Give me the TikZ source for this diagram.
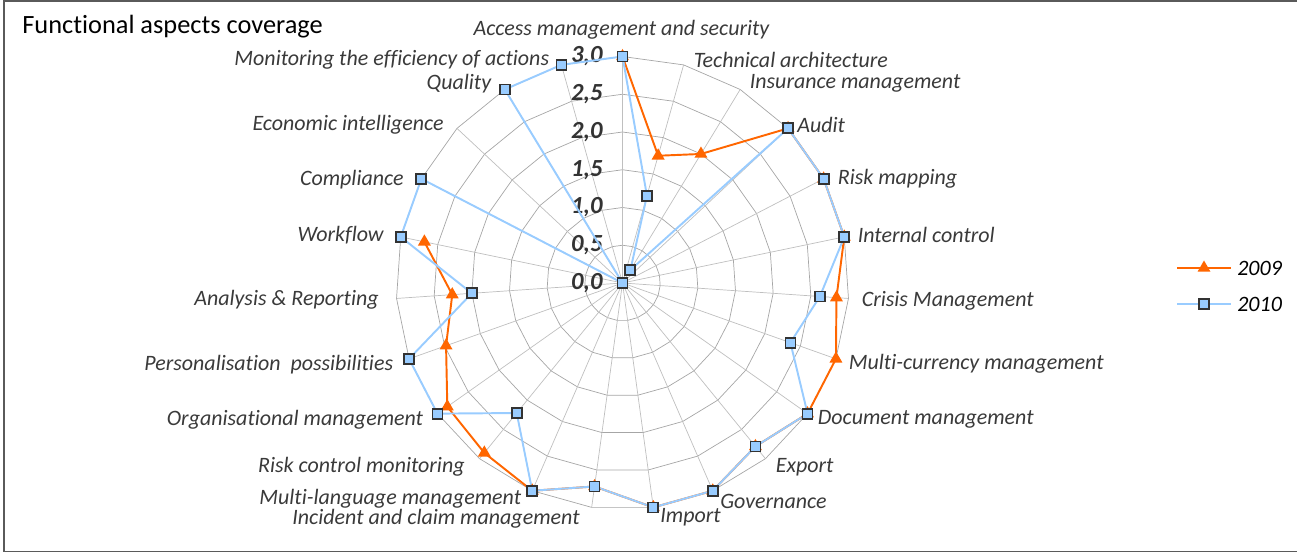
\documentclass[tikz,border=0pt]{standalone}
\usepackage{fontspec}
\setmainfont{Carlito}[Ligatures=NoCommon]
\usetikzlibrary{shapes.geometric}

\definecolor{orangeline}{RGB}{255,102,0}
\definecolor{blueline}{RGB}{153,204,255}
\definecolor{labeltext}{RGB}{58,58,58}
\definecolor{markeredge}{RGB}{51,51,51}
\definecolor{framegray}{RGB}{90,90,90}

\tikzset{
  ring/.style={draw=gray!70, line width=0.4pt},
  spoke/.style={draw=gray!50, line width=0.4pt},
  line09/.style={draw=orangeline, line width=1.1pt},
  line10/.style={draw=blueline, line width=1.1pt},
  tri09/.style={regular polygon, regular polygon sides=3, fill=orangeline, inner sep=0pt, minimum size=0.3cm},
  sq10/.style={rectangle, fill=blueline, draw=markeredge, line width=1pt, inner sep=0pt, minimum size=0.2cm},
  catlabel/.style={font=\fontsize{12.5}{15}\selectfont\itshape, text=labeltext, inner sep=0pt},
  ticklabel/.style={font=\fontsize{14}{16}\selectfont\bfseries\itshape, text=markeredge, inner sep=0pt, anchor=east},
  legtext/.style={font=\fontsize{12.5}{15}\selectfont\itshape, text=black, inner sep=0pt, anchor=west}
}

\begin{document}
\begin{tikzpicture}
  \useasboundingbox (0,0) rectangle (25.94,11.06);
  \draw[framegray, line width=0.9pt] (26.5,11.04) -- (0.08,11.04) -- (0.08,0.03) -- (26.5,0.03);
  \node[anchor=west, inner sep=0pt, font=\fontsize{15}{18}\selectfont] (title) at (0.44,10.52) {Functional aspects coverage};

  \begin{scope}[xshift=12.45cm, yshift=5.40cm, scale=1.51]
    % grid
    \foreach \r in {0.5,1,...,3}
      \draw[ring] (90:\r) \foreach \i in {1,...,22}{ -- (90-\i*360/23:\r)} -- cycle;
    \foreach \i in {0,...,22}
      \draw[spoke] (0,0) -- (90-\i*360/23:3);
    \foreach \v/\a/\b in {0/0/0, 0.5/0/5, 1/1/0, 1.5/1/5, 2/2/0, 2.5/2/5, 3/3/0}
      \node[ticklabel] (tick\a\b) at (-0.26,\v) {\a,\b};

    % data points
    \foreach \v [count=\i from 0] in {3,1.75,2,3,3,3,2.84,3,3,2.79,3,3,2.72,3,2.9,2.84,2.48,2.26,2.68}
      \coordinate (p\i) at (90-\i*360/23:\v);
    \foreach \v [count=\i from 0] in {3,1.2,0.2,3,3,3,2.62,2.36,3,2.79,3,3,2.72,3,2.22,3,3,2,3,3,0,3,3}
      \coordinate (q\i) at (90-\i*360/23:\v);

    \draw[line09] (p0) \foreach \i in {1,...,18}{ -- (p\i)};
    \draw[line10] (q0) \foreach \i in {1,...,22}{ -- (q\i)} -- cycle;
    \foreach \i in {0,...,18}
      \node[tri09] (m09-\i) at (p\i) {};
    \foreach \i in {0,...,22}
      \node[sq10] (m10-\i) at (q\i) {};
  \end{scope}

  % category labels
  \node[catlabel, anchor=center] (cat0) at (12.43,10.46) {Access management and security};
  \node[catlabel, anchor=west] (cat1) at (13.87,9.87) {Technical architecture};
  \node[catlabel, anchor=west] (cat2) at (14.99,9.39) {Insurance management};
  \node[catlabel, anchor=west] (cat3) at (15.94,8.56) {Audit};
  \node[catlabel, anchor=west] (cat4) at (16.75,7.48) {Risk mapping};
  \node[catlabel, anchor=west] (cat5) at (17.15,6.36) {Internal control};
  \node[catlabel, anchor=west] (cat6) at (17.23,5.05) {Crisis Management};
  \node[catlabel, anchor=west] (cat7) at (16.97,3.78) {Multi-currency management};
  \node[catlabel, anchor=west] (cat8) at (16.35,2.67) {Document management};
  \node[catlabel, anchor=west] (cat9) at (15.51,1.71) {Export};
  \node[catlabel, anchor=west] (cat10) at (14.40,1.04) {Governance};
  \node[catlabel, anchor=west] (cat11) at (13.20,0.71) {Import};
  \node[catlabel, anchor=east] (cat12) at (11.60,0.69) {Incident and claim management};
  \node[catlabel, anchor=east] (cat13) at (10.43,1.08) {Multi-language management};
  \node[catlabel, anchor=east] (cat14) at (9.30,1.73) {Risk control monitoring};
  \node[catlabel, anchor=east] (cat15) at (8.47,2.66) {Organisational management};
  \node[catlabel, anchor=east] (cat16) at (7.87,3.76) {Personalisation\ \ possibilities};
  \node[catlabel, anchor=east] (cat17) at (7.58,5.06) {Analysis \& Reporting};
  \node[catlabel, anchor=east] (cat18) at (7.68,6.36) {Workflow};
  \node[catlabel, anchor=east] (cat19) at (8.08,7.46) {Compliance};
  \node[catlabel, anchor=east] (cat20) at (8.88,8.56) {Economic intelligence};
  \node[catlabel, anchor=east] (cat21) at (9.83,9.39) {Quality};
  \node[catlabel, anchor=east] (cat22) at (10.99,9.87) {Monitoring the efficiency of actions};

  % legend
  \coordinate (k09a) at (23.54,5.70);
  \coordinate (k09b) at (24.62,5.70);
  \draw[line09] (k09a) -- (k09b);
  \node[tri09] (k09m) at (24.08,5.70) {};
  \node[legtext] (k09t) at (24.74,5.70) {2009};
  \coordinate (k10a) at (23.54,4.98);
  \coordinate (k10b) at (24.62,4.98);
  \draw[line10] (k10a) -- (k10b);
  \node[sq10] (k10m) at (24.08,4.98) {};
  \node[legtext] (k10t) at (24.74,4.98) {2010};
\end{tikzpicture}
\end{document}
